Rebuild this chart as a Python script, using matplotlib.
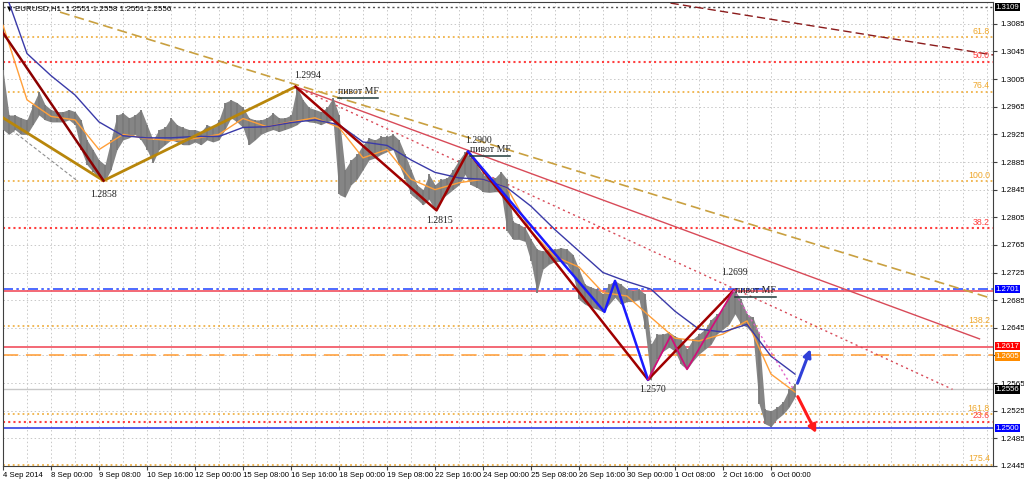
import numpy as np
import matplotlib.pyplot as plt
from matplotlib.transforms import blended_transform_factory

plt.rcParams['font.family'] = ['Liberation Sans', 'DejaVu Sans']

# EURUSD H1, high / low sampled every 4 bars
hi = [1.3018, 1.2953, 1.2953, 1.2949, 1.2946, 1.2968, 1.2987, 1.2968, 1.2961, 1.2958,
      1.2958, 1.2961, 1.2958, 1.2946, 1.2917, 1.2903, 1.2888, 1.2881, 1.2917, 1.2953,
      1.2956, 1.2949, 1.2953, 1.2961, 1.2939, 1.2917, 1.2932, 1.2935, 1.2949, 1.2939,
      1.2935, 1.2932, 1.2932, 1.2929, 1.2939, 1.2935, 1.2946, 1.2971, 1.2975, 1.2971,
      1.2964, 1.2949, 1.2946, 1.2946, 1.2949, 1.2956, 1.2949, 1.2949, 1.2953, 1.2994,
      1.2975, 1.2964, 1.2961, 1.2958, 1.2964, 1.2978, 1.2953, 1.2874, 1.2888, 1.2896,
      1.2910, 1.2920, 1.2917, 1.2922, 1.2922, 1.2925, 1.2917, 1.2896, 1.2874, 1.2852,
      1.2845, 1.2867, 1.2852, 1.2860, 1.2862, 1.2874, 1.2888, 1.2900, 1.2891, 1.2881,
      1.2867, 1.2862, 1.2862, 1.2871, 1.2860, 1.2799, 1.2795, 1.2790, 1.2773, 1.2759,
      1.2756, 1.2759, 1.2759, 1.2761, 1.2759, 1.2751, 1.2730, 1.2708, 1.2704, 1.2701,
      1.2694, 1.2708, 1.2713, 1.2708, 1.2701, 1.2699, 1.2701, 1.2694, 1.2621, 1.2636,
      1.2636, 1.2639, 1.2633, 1.2629, 1.2614, 1.2629, 1.2636, 1.2643, 1.2657, 1.2665,
      1.2672, 1.2694, 1.2699, 1.2686, 1.2665, 1.2660, 1.2636, 1.2527, 1.2525, 1.2530,
      1.2538, 1.2556, 1.2564]
lo = [1.2932, 1.2925, 1.2932, 1.2925, 1.2925, 1.2939, 1.2953, 1.2946, 1.2943, 1.2943,
      1.2943, 1.2946, 1.2939, 1.2903, 1.2881, 1.2871, 1.2862, 1.2858, 1.2874, 1.2903,
      1.2917, 1.2920, 1.2925, 1.2917, 1.2903, 1.2884, 1.2903, 1.2910, 1.2917, 1.2914,
      1.2910, 1.2910, 1.2914, 1.2910, 1.2917, 1.2914, 1.2917, 1.2932, 1.2949, 1.2943,
      1.2935, 1.2910, 1.2917, 1.2925, 1.2929, 1.2932, 1.2929, 1.2932, 1.2935, 1.2939,
      1.2946, 1.2943, 1.2942, 1.2939, 1.2943, 1.2946, 1.2838, 1.2834, 1.2852, 1.2860,
      1.2874, 1.2888, 1.2891, 1.2896, 1.2900, 1.2903, 1.2881, 1.2860, 1.2838, 1.2831,
      1.2823, 1.2831, 1.2815, 1.2831, 1.2838, 1.2845, 1.2852, 1.2867, 1.2852, 1.2848,
      1.2842, 1.2841, 1.2842, 1.2842, 1.2785, 1.2773, 1.2773, 1.2770, 1.2741, 1.2696,
      1.2730, 1.2737, 1.2741, 1.2741, 1.2737, 1.2722, 1.2686, 1.2679, 1.2675, 1.2672,
      1.2668, 1.2679, 1.2689, 1.2679, 1.2683, 1.2683, 1.2686, 1.2643, 1.2570, 1.2600,
      1.2611, 1.2617, 1.2611, 1.2592, 1.2585, 1.2597, 1.2607, 1.2614, 1.2621, 1.2636,
      1.2643, 1.2650, 1.2665, 1.2650, 1.2646, 1.2636, 1.2535, 1.2506, 1.2502, 1.2513,
      1.2520, 1.2530, 1.2545]

# moving averages, sampled every 16 bars
ma_fast = [1.3083, 1.2975, 1.2951, 1.2946, 1.2903, 1.2925, 1.2919, 1.2916, 1.2919, 1.2925,
           1.2948, 1.2936, 1.2943, 1.2949, 1.2935, 1.2891, 1.2903, 1.2860, 1.2845, 1.2855,
           1.2860, 1.2848, 1.2785, 1.2748, 1.2733, 1.2696, 1.2691, 1.2660, 1.2630, 1.2626,
           1.2636, 1.2655, 1.2578, 1.2552]
ma_slow = [1.3140, 1.3042, 1.3010, 1.2982, 1.2943, 1.2923, 1.2920, 1.2920, 1.2922, 1.2922,
           1.2935, 1.2936, 1.2942, 1.2946, 1.2939, 1.2914, 1.2909, 1.2888, 1.2870, 1.2862,
           1.2860, 1.2848, 1.2821, 1.2787, 1.2756, 1.2725, 1.2712, 1.2701, 1.2669, 1.2643,
           1.2639, 1.2650, 1.2604, 1.2578]

date_labels = ["4 Sep 2014", "8 Sep 00:00", "9 Sep 08:00", "10 Sep 16:00", "12 Sep 00:00",
               "15 Sep 08:00", "16 Sep 16:00", "18 Sep 00:00", "19 Sep 08:00", "22 Sep 16:00",
               "24 Sep 00:00", "25 Sep 08:00", "26 Sep 16:00", "30 Sep 00:00", "1 Oct 08:00",
               "2 Oct 16:00", "6 Oct 00:00"]
price_ticks = [1.3085, 1.3045, 1.3005, 1.2965, 1.2925, 1.2885, 1.2845, 1.2805, 1.2765,
               1.2725, 1.2685, 1.2645, 1.2605, 1.2565, 1.2525, 1.2485, 1.2445]

# zigzag pivots (bar, price)
zz_red_a_bars = [0, 67]
zz_red_a_prices = [1.3072, 1.2858]
zz_red_b_bars = [195, 289, 310, 430, 487]
zz_red_b_prices = [1.2994, 1.2815, 1.2900, 1.2570, 1.2699]
zz_gold_bars = [0, 67, 195]
zz_gold_prices = [1.2949, 1.2858, 1.2994]
zz_blue_bars = [310, 401, 408, 430]
zz_blue_prices = [1.2900, 1.2668, 1.2713, 1.2570]
zz_mag_bars = [430, 445, 456, 487]
zz_mag_prices = [1.2570, 1.2633, 1.2585, 1.2699]
pink_bars = [487, 527]
pink_prices = [1.2699, 1.2556]

# trend lines (bar, price)
tan_bars, tan_prices = [38, 657], [1.3102, 1.2689]
red_bars, red_prices = [195, 651], [1.2994, 1.2629]
reddot_bars, reddot_prices = [195, 633], [1.2994, 1.2556]
darkred_bars, darkred_prices = [445, 660], [1.3115, 1.3040]
grey_bars, grey_prices = [3, 50], [1.2936, 1.2857]

# fibo levels
fib_orange_levels = [1.3066, 1.2987, 1.2857, 1.2647, 1.2520, 1.2447]
fib_orange_names = ["61.8", "76.4", "100.0", "138.2", "161.8", "175.4"]
fib_red_levels = [1.3030, 1.2789, 1.2509]
fib_red_names = ["50.0", "38.2", "23.6"]

# pivot labels
pivot_texts = ["1.2858", "1.2994", "1.2815", "1.2900", "1.2570", "1.2699"]
pivot_bars = [67, 203, 291, 317, 433, 488]
pivot_prices = [1.2838, 1.3010, 1.2800, 1.2916, 1.2556, 1.2725]
mf_bars = [223, 311, 488]
mf_prices = [1.2987, 1.2903, 1.2699]

# highlighted price labels on the right scale
box_prices = [1.3109, 1.2701, 1.2617, 1.2605, 1.2556, 1.2500]
box_colors = ["black", "#0000ff", "#ff0000", "#ff8c00", "black", "#0000ff"]
box_shift = [0, 0, 0.00014, -0.00014, 0, 0]

fig = plt.figure(figsize=(10.24, 4.82), dpi=100)
ax = fig.add_axes([3 / 1024, 16 / 482, 990 / 1024, 464 / 482])
ax.set_xlim(0, 660)
ax.set_ylim(1.24466, 1.31166)

# grid
for gx in range(16, 660, 16):
    ax.axvline(gx, color="#c8c8c8", lw=0.7, ls=(0, (1.5, 2.5)), zorder=0)
for gy in price_ticks:
    ax.axhline(gy, color="#c8c8c8", lw=0.7, ls=(0, (1.5, 2.5)), zorder=0)

# horizontal levels
ax.axhline(1.3109, color="#505050", lw=1, ls=(0, (1.5, 2)), zorder=1)
for lev, name in zip(fib_orange_levels, fib_orange_names):
    ax.axhline(lev, color="#eea62a", lw=1.1, ls=(0, (1.2, 2)), zorder=1)
    ax.text(658, lev + 0.0002, name, color="#eea62a", fontsize=6.3, ha="right", va="bottom")
for lev, name in zip(fib_red_levels, fib_red_names):
    ax.axhline(lev, color="#ff4040", lw=1.5, ls=(0, (1, 1.5)), zorder=1)
    ax.text(658, lev + 0.0002, name, color="#ff4040", fontsize=6.3, ha="right", va="bottom")
ax.axhline(1.2701, color="#3050ff", lw=1.2, ls=(0, (6, 2, 1.5, 2, 1.5, 2)), zorder=1)
ax.axhline(1.2698, color="#f04050", lw=1.1, zorder=1)
ax.axhline(1.2617, color="#f04050", lw=1.1, zorder=1)
ax.axhline(1.2605, color="#ff9a30", lw=1.1, ls=(0, (10, 5)), zorder=1)
ax.axhline(1.2556, color="#c8c8c8", lw=1.0, zorder=1)
ax.axhline(1.2500, color="#2030e0", lw=1.1, zorder=1)

# trend lines
ax.plot(tan_bars, tan_prices, color="#c9a040", lw=1.2, dashes=(6, 3), zorder=2)
ax.plot(red_bars, red_prices, color="#d84a58", lw=1.0, zorder=2)
ax.plot(reddot_bars, reddot_prices, color="#d84a58", lw=1.0, ls=(0, (1.5, 2.5)), zorder=2)
ax.plot(darkred_bars, darkred_prices, color="#8b1a1a", lw=1.0, dashes=(6, 3), zorder=2)
ax.plot(grey_bars, grey_prices, color="#909090", lw=0.8, dashes=(3, 2), zorder=2)

# price bars
xb = np.arange(len(hi)) * 4
ax.fill_between(xb, lo, hi, color="#858585", lw=0, zorder=3)
ax.vlines(xb, lo, hi, color="#7a7a7a", lw=1.3, zorder=3)

# moving averages
xm = np.arange(len(ma_fast)) * 16
ax.plot(xm, ma_fast, color="#ff9f3a", lw=1.0, zorder=4)
ax.plot(xm, ma_slow, color="#3a3aa8", lw=1.0, zorder=4)

# zigzags
ax.plot(zz_gold_bars, zz_gold_prices, color="#b8860b", lw=2.0, zorder=5)
ax.plot(zz_red_a_bars, zz_red_a_prices, color="#8b0000", lw=1.8, zorder=5)
ax.plot(zz_red_b_bars, zz_red_b_prices, color="#a00000", lw=1.8, zorder=5)
ax.plot(zz_blue_bars, zz_blue_prices, color="#1a1aff", lw=1.8, zorder=5)
ax.plot(zz_mag_bars, zz_mag_prices, color="#d0107a", lw=1.3, zorder=5)
ax.plot(pink_bars, pink_prices, color="#e060c8", lw=1.0, ls=(0, (1.5, 2)), zorder=5)

# forecast arrows
ax.annotate("", xy=(539, 1.2618), xytext=(529, 1.2561),
            arrowprops=dict(arrowstyle="-|>", color="#3040d8", lw=2.2, mutation_scale=11), zorder=6)
ax.annotate("", xy=(543, 1.2489), xytext=(529, 1.2549),
            arrowprops=dict(arrowstyle="-|>", color="#ff1a1a", lw=2.2, mutation_scale=11), zorder=6)

# labels on the chart
for t, bx, pr in zip(pivot_texts, pivot_bars, pivot_prices):
    ax.text(bx, pr, t, family="Liberation Serif", fontsize=7, ha="center", va="center",
            color="#202020", zorder=7)
for bx, pr in zip(mf_bars, mf_prices):
    ax.text(bx, pr, "пивот MF", family="Liberation Serif", fontsize=7, ha="left", va="center",
            color="#202020", zorder=7)
    ax.plot([bx, bx + 27], [pr - 0.0010, pr - 0.0010], color="#1f3a3a", lw=1.1, zorder=7)

ax.text(0.004, 0.985, "\u25bc", transform=ax.transAxes, family="DejaVu Sans", fontsize=5,
        va="center", ha="left")
ax.text(0.012, 0.985, "EURUSD,H1  1.2551 1.2558 1.2551 1.2556", transform=ax.transAxes,
        fontsize=5.8, va="center", ha="left")

# axes
for s in ax.spines.values():
    s.set_color("#404040")
    s.set_linewidth(0.8)
ax.set_xticks(range(0, 513, 32))
ax.set_xticklabels(date_labels, ha="left")
ax.tick_params(axis="x", length=3, pad=1.5, labelsize=5.6, color="#404040")
ax.yaxis.tick_right()
ax.set_yticks(price_ticks)
# the 1.2605 tick sits under the orange level label
ax.set_yticklabels(["" if p in box_prices else f"{p:.4f}" for p in price_ticks])
ax.tick_params(axis="y", length=3, pad=2, labelsize=5.8, color="#404040")

tr = blended_transform_factory(ax.transAxes, ax.transData)
for pr, col, sh in zip(box_prices, box_colors, box_shift):
    ax.text(1.0025, pr + sh, f"{pr:.4f}", transform=tr, color="white", fontsize=5.6,
            va="center", ha="left", clip_on=False, zorder=10,
            bbox=dict(facecolor=col, edgecolor="none", pad=0.5))

fig.savefig("out.png", dpi=100)
